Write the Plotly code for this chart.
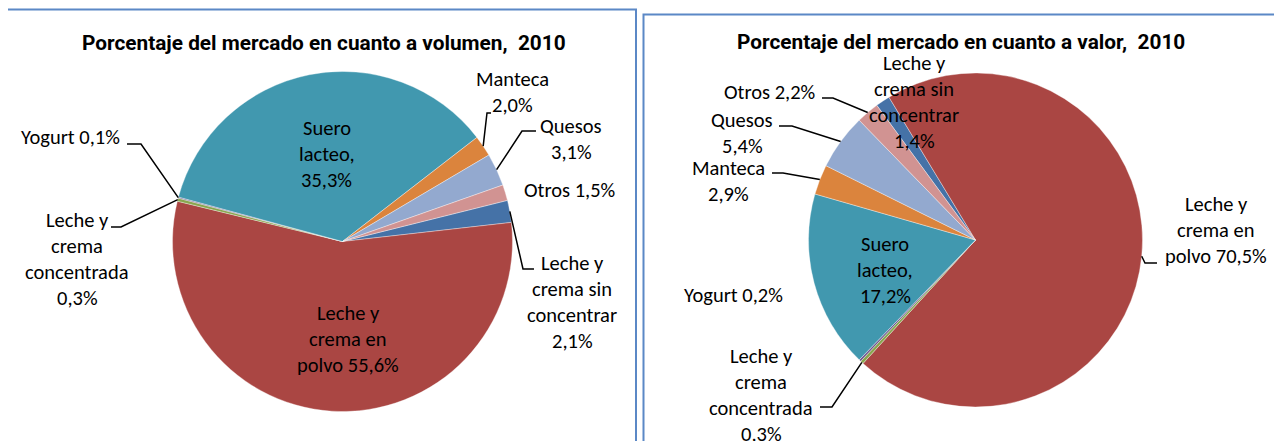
import math
import plotly.graph_objects as go

# The page places the figure 8px from the top-left corner (body margin),
# so the figure is sized to the visible area and reference pixels are shifted.
VIEW_W, VIEW_H, OFF = 1282, 441, 8
W, H = VIEW_W - OFF, VIEW_H - OFF

# ---------------- data ----------------
categories = ["Leche y crema sin concentrar", "Leche y crema en polvo",
              "Leche y crema concentrada", "Yogurt", "Suero lacteo",
              "Manteca", "Quesos", "Otros"]
volumen_pct = [2.1, 55.6, 0.3, 0.1, 35.3, 2.0, 3.1, 1.5]
valor_pct = [1.4, 70.5, 0.3, 0.2, 17.2, 2.9, 5.4, 2.2]
titles = ["Porcentaje del mercado en cuanto a volumen,  2010",
          "Porcentaje del mercado en cuanto a valor,  2010"]

# ---------------- style ----------------
colors = ["#4572A7", "#AA4643", "#89A54E", "#71588F", "#4198AF",
          "#DB843D", "#93A9CF", "#D19392"]
LABEL_FONT = "Carlito, Calibri, Lato, sans-serif"
LABEL_SIZE = 20.5
TITLE_FONT = "'Liberation Sans Narrow', 'Arial Narrow', Roboto, sans-serif"
TITLE_SIZE = 20.8
LINE_H = 26


def fmt(v):
    return f"{v:.1f}".replace(".", ",") + "%"


def px(x):
    return (x - OFF) / W


def py(y):
    return 1 - (y - OFF) / H


# label line layouts: lines of the name; sep -> how pct is attached
# (None -> own line, " " -> appended to last line)
wraps = {
    0: (["Leche y", "crema sin", "concentrar"], None),
    1: (["Leche y", "crema en", "polvo"], " "),
    2: (["Leche y", "crema", "concentrada"], None),
    3: (["Yogurt"], " "),
    4: (["Suero", "lacteo,"], None),
    5: (["Manteca"], None),
    6: (["Quesos"], None),
    7: (["Otros"], " "),
}

# pie geometry (pixels): center x, center y, radius, rotation
pies = {
    "vol": dict(cx=342.5, cy=241.5, r=170, rot=76.0, values=volumen_pct, title_x=323.5, title_y=43),
    "val": dict(cx=975.5, cy=240.0, r=167, rot=-36.24, values=valor_pct, title_x=960.5, title_y=42),
}

# label placement: (center x, first line y, leader knee points or None)
labels_pos = {
    "vol": {
        0: (572, 263, [(534, 269), (523, 269)]),
        1: (348, 313, None),
        2: (77, 220, [(111, 227), (121, 227)]),
        3: (70, 137, [(127, 144), (141, 144)]),
        4: (327, 128, None),
        5: (512, 79, [(491, 113), (487, 113)]),
        6: (571, 126, [(536, 131), (522, 131)]),
        7: (569, 190, None),
    },
    "val": {
        0: (914, 63, None),
        1: (1216, 204, [(1157, 263), (1145, 263)]),
        2: (761, 356, [(820, 407), (832, 407)]),
        3: (733, 295, None),
        4: (885, 244, None),
        5: (728, 168, [(772, 173), (783, 173)]),
        6: (742, 120, [(779, 126), (792, 126)]),
        7: (769, 92, [(822, 98), (833, 98)]),
    },
}

fig = go.Figure()
annotations = []
shapes = []

# boxes
shapes.append(dict(type="rect", xref="paper", yref="paper",
                   x0=px(7), x1=px(636), y0=py(450), y1=py(9.5),
                   line=dict(color="#5B88C6", width=2), fillcolor="rgba(0,0,0,0)"))
shapes.append(dict(type="rect", xref="paper", yref="paper",
                   x0=px(643.5), x1=px(1276.5), y0=py(450), y1=py(14.5),
                   line=dict(color="#5B88C6", width=2), fillcolor="rgba(0,0,0,0)"))

for key, title in zip(["vol", "val"], titles):
    g = pies[key]
    vals = g["values"]
    fig.add_trace(go.Pie(
        labels=categories, values=vals, sort=False, direction="clockwise",
        rotation=g["rot"], textinfo="none", hoverinfo="label+percent",
        marker=dict(colors=colors, line=dict(color="rgba(255,255,255,0.6)", width=0.6)),
        domain=dict(x=[px(g["cx"] - g["r"]), px(g["cx"] + g["r"])],
                    y=[py(g["cy"] + g["r"]), py(g["cy"] - g["r"])]),
        showlegend=False,
    ))
    annotations.append(dict(x=px(g["title_x"]), y=py(g["title_y"]), xref="paper", yref="paper",
                            text=f"<b>{title}</b>", showarrow=False, xanchor="center", yanchor="middle",
                            font=dict(family=TITLE_FONT, size=TITLE_SIZE, color="#000000")))
    total = sum(vals)
    cum = 0.0
    for i, v in enumerate(vals):
        mid = g["rot"] + (cum + v / 2) / total * 360.0
        cum += v
        name_lines, sep = wraps[i]
        lines = list(name_lines)
        if sep is None:
            lines.append(fmt(v))
        else:
            lines[-1] = lines[-1] + sep + fmt(v)
        lx, ly, knees = labels_pos[key][i]
        for j, t in enumerate(lines):
            annotations.append(dict(x=px(lx), y=py(ly + j * LINE_H), xref="paper", yref="paper",
                                    text=t, showarrow=False, xanchor="center", yanchor="middle",
                                    font=dict(family=LABEL_FONT, size=LABEL_SIZE, color="#000000")))
        if knees:
            a = math.radians(mid)
            ex = g["cx"] + g["r"] * math.sin(a)
            ey = g["cy"] - g["r"] * math.cos(a)
            pts = knees + [(ex, ey)]
            path = "M " + " L ".join(f"{px(x):.5f},{py(y):.5f}" for x, y in pts)
            shapes.append(dict(type="path", xref="paper", yref="paper", path=path,
                               line=dict(color="#000000", width=1.5)))

fig.update_layout(
    width=W, height=H, margin=dict(l=0, r=0, t=0, b=0),
    paper_bgcolor="#FFFFFF", plot_bgcolor="#FFFFFF",
    annotations=annotations, shapes=shapes,
)

fig.write_html("out.html")
